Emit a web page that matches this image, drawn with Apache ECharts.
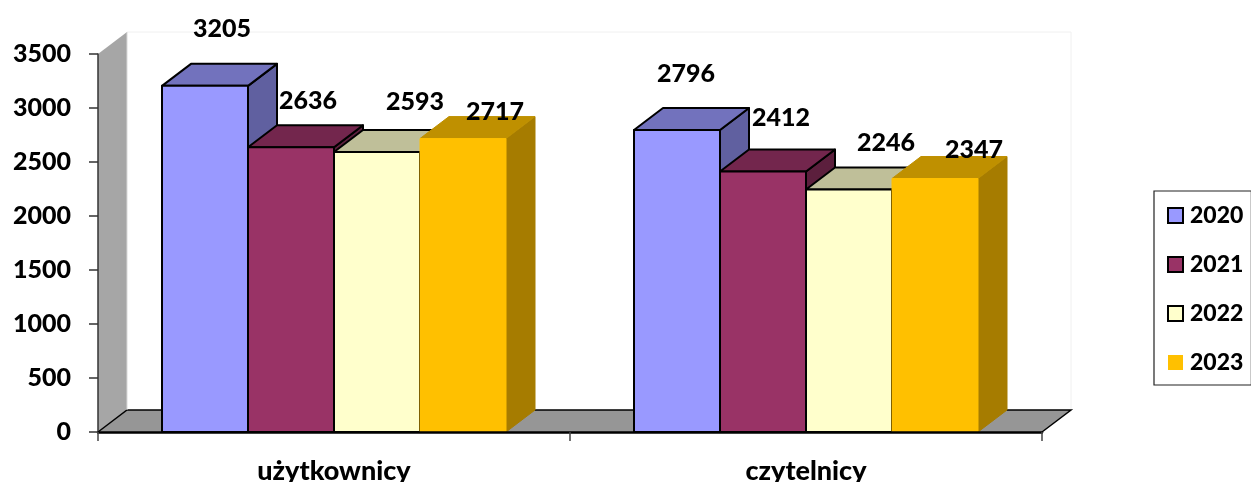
<!DOCTYPE html>
<html>
<head>
<meta charset="utf-8">
<style>html,body{margin:0;padding:0;background:#fff}#c{width:1251px;height:482px}</style>
<script src="https://cdn.jsdelivr.net/npm/echarts@6/dist/echarts.min.js"></script>
</head>
<body>
<div id="c"></div>
<script>
const categories = ['użytkownicy', 'czytelnicy'];
const years = ['2020', '2021', '2022', '2023'];
const values2020 = [3205, 2796];
const values2021 = [2636, 2412];
const values2022 = [2593, 2246];
const values2023 = [2717, 2347];
const yTicks = {min: 0, max: 3500, interval: 500};

const seriesValues = [values2020, values2021, values2022, values2023];
const FONT = 'Lato, "Open Sans", sans-serif';
const WEIGHT = 900;
const DX = 29, DY = -22, BAR_RATIO = 86 / 472;
const palette = [
  {front: '#9999ff', top: '#7272bd', side: '#6060a0', border: '#000'},
  {front: '#993366', top: '#73264d', side: '#5c1f3d', border: '#000'},
  {front: '#ffffcc', top: '#bfbf99', side: '#a0a080', border: '#000'},
  {front: '#ffc000', top: '#bf9000', side: '#a67c00', border: null}
];
// hand-placed data-label offsets from the bar's top-centre, [series][category]
const labelShift = [
  [[17, -57], [9, -56]],
  [[17, -46], [18, -54]],
  [[38, -50], [37, -46]],
  [[32, -27], [39, -29]]
];

function barRenderer(si) {
  const p = palette[si];
  return function (params, api) {
    const cat = api.value(0), val = api.value(1);
    const w = api.size([1, 0])[0] * BAR_RATIO;
    const topC = api.coord([cat, val]);
    const base = api.coord([cat, 0]);
    const x0 = topC[0] + (si - 2) * w, x1 = x0 + w, y0 = topC[1], y1 = base[1];
    const poly = (pts, fill) => ({
      type: 'polygon', shape: {points: pts},
      style: p.border
        ? {fill, stroke: p.border, lineWidth: 2, lineJoin: 'round'}
        : {fill, stroke: fill, lineWidth: 1, lineJoin: 'round'}
    });
    const shift = labelShift[si][params.dataIndex];
    return {
      type: 'group',
      children: [
        poly([[x1, y0], [x1 + DX, y0 + DY], [x1 + DX, y1 + DY], [x1, y1]], p.side),
        poly([[x0, y0], [x0 + DX, y0 + DY], [x1 + DX, y0 + DY], [x1, y0]], p.top),
        poly([[x0, y0], [x1, y0], [x1, y1], [x0, y1]], p.front),
        {
          type: 'text', z2: 100,
          style: {
            x: (x0 + x1) / 2 + shift[0], y: y0 + shift[1],
            text: String(val), fill: '#000', font: WEIGHT + ' 25px ' + FONT,
            align: 'center', verticalAlign: 'middle'
          }
        }
      ]
    };
  };
}

function backdrop(params, api) {
  const g = params.coordSys;
  const l = g.x, r = g.x + g.width, t = g.y, b = g.y + g.height;
  return {
    type: 'group',
    children: [
      {type: 'polyline', shape: {points: [[l + DX, t + DY], [r + DX, t + DY], [r + DX, b + DY]]},
        style: {fill: null, stroke: '#f0f0f0', lineWidth: 1}},
      {type: 'polygon', shape: {points: [[l, t], [l + DX, t + DY], [l + DX, b + DY], [l, b]]},
        style: {fill: '#a6a6a6', stroke: null}},
      {type: 'polygon', shape: {points: [[l, b], [l + DX, b + DY], [r + DX, b + DY], [r, b]]},
        style: {fill: '#969696', stroke: null}},
      {type: 'polyline', shape: {points: [[l, b], [l + DX, b + DY], [r + DX, b + DY], [r, b]]},
        style: {fill: null, stroke: '#000', lineWidth: 1.5}},
      {type: 'line', shape: {x1: l + DX, y1: t + DY, x2: l + DX, y2: b + DY},
        style: {stroke: '#d9d9d9', lineWidth: 1}}
    ]
  };
}

const series = [{
  type: 'custom', name: 'backdrop', renderItem: backdrop, data: [[0, 0]],
  silent: true, z: 1, clip: false
}].concat(years.map((y, si) => ({
  type: 'custom', name: y, z: 2, clip: false,
  renderItem: barRenderer(si),
  itemStyle: {color: palette[si].front},
  encode: {x: 0, y: 1},
  data: categories.map((c, i) => [i, seriesValues[si][i]])
})));

const option = {
  animation: false,
  backgroundColor: '#fff',
  grid: {left: 98, top: 54, width: 944, height: 378, containLabel: false, outerBoundsMode: 'none'},
  xAxis: {
    type: 'category', data: categories, z: 10,
    axisLine: {lineStyle: {color: '#000', width: 2.5}},
    axisTick: {show: true, length: 9, alignWithLabel: false, lineStyle: {color: '#444', width: 1.5}},
    axisLabel: {color: '#000', fontFamily: FONT, fontWeight: WEIGHT, fontSize: 27, margin: 26},
    splitLine: {show: false}
  },
  yAxis: {
    type: 'value', min: yTicks.min, max: yTicks.max, interval: yTicks.interval, z: 10,
    axisLine: {show: true, lineStyle: {color: '#333', width: 1.5}},
    axisTick: {show: true, length: 9, lineStyle: {color: '#333', width: 1.5}},
    axisLabel: {color: '#000', fontFamily: FONT, fontWeight: WEIGHT, fontSize: 25, margin: 27, padding: [3, 0, 0, 0], formatter: v => String(v)},
    splitLine: {show: false}
  },
  legend: {
    left: 1154, top: 191, orient: 'vertical',
    width: 96,
    padding: [13, 8, 11, 13],
    itemGap: 26, itemWidth: 15, itemHeight: 15,
    borderColor: '#222', borderWidth: 1.2, backgroundColor: '#fff',
    textStyle: {color: '#000', fontFamily: FONT, fontWeight: WEIGHT, fontSize: 23, padding: [0, 0, 0, 2]},
    selectedMode: false,
    data: years.map((y, i) => ({
      name: y, icon: 'rect',
      itemStyle: {color: palette[i].front, borderColor: palette[i].border || palette[i].front, borderWidth: palette[i].border ? 2 : 0}
    }))
  },
  series
};
echarts.init(document.getElementById('c'), null, {renderer: 'canvas'}).setOption(option);
</script>
</body>
</html>
